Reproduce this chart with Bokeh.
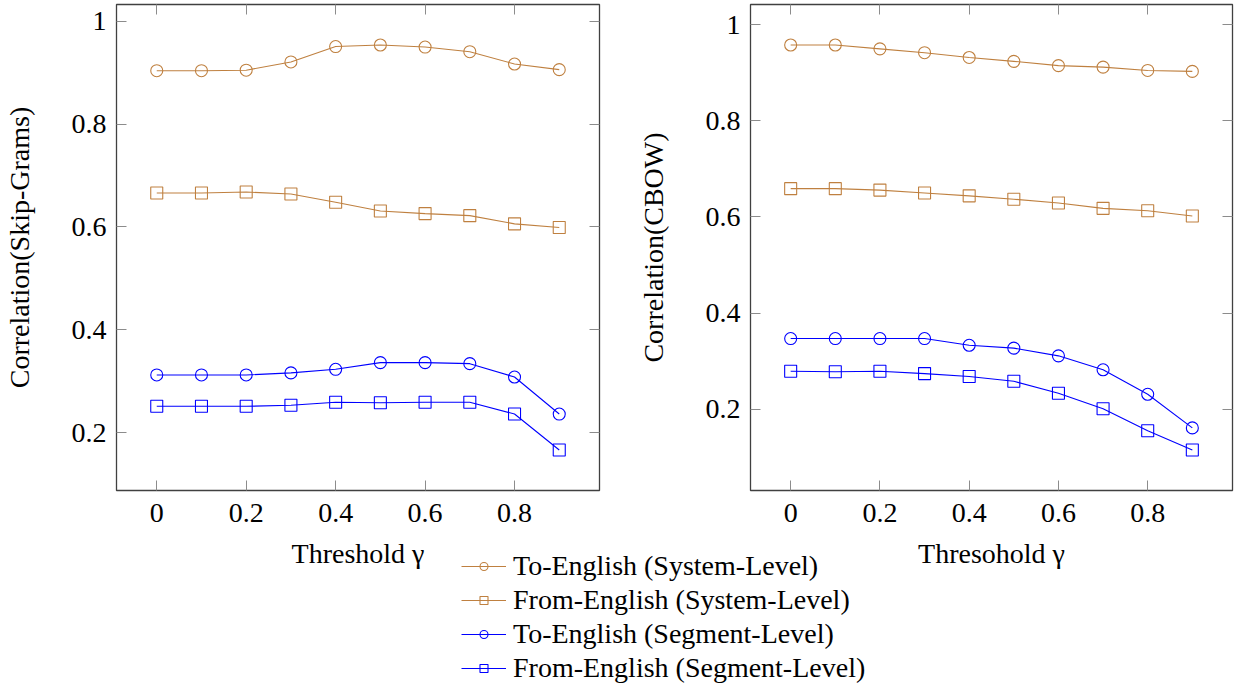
import math
from bokeh.plotting import figure
from bokeh.models import (FixedTicker, LinearAxis, Legend, LegendItem, Range1d,
                          CustomLabelingPolicy)
from bokeh.layouts import column, row
from bokeh.embed import file_html
from bokeh.resources import INLINE

# ---- data ----
thresholds = [0.0, 0.1, 0.2, 0.3, 0.4, 0.5, 0.6, 0.7, 0.8, 0.9]

sg_to_sys = [0.904, 0.904, 0.905, 0.921, 0.951, 0.954, 0.950, 0.941, 0.917, 0.906]
sg_from_sys = [0.666, 0.666, 0.668, 0.664, 0.648, 0.631, 0.626, 0.622, 0.606, 0.599]
sg_to_seg = [0.312, 0.312, 0.312, 0.316, 0.323, 0.336, 0.336, 0.334, 0.308, 0.236]
sg_from_seg = [0.251, 0.251, 0.251, 0.253, 0.259, 0.258, 0.259, 0.259, 0.236, 0.166]

cb_to_sys = [0.958, 0.958, 0.950, 0.942, 0.932, 0.924, 0.915, 0.912, 0.905, 0.903]
cb_from_sys = [0.659, 0.659, 0.656, 0.650, 0.644, 0.637, 0.629, 0.618, 0.613, 0.602]
cb_to_seg = [0.347, 0.347, 0.347, 0.347, 0.333, 0.327, 0.311, 0.282, 0.231, 0.161]
cb_from_seg = [0.279, 0.278, 0.279, 0.274, 0.268, 0.258, 0.233, 0.201, 0.155, 0.115]

series_names = ["To-English (System-Level)", "From-English (System-Level)",
                "To-English (Segment-Level)", "From-English (Segment-Level)"]
x_ticks = [0.0, 0.2, 0.4, 0.6, 0.8]
y_ticks = [0.2, 0.4, 0.6, 0.8, 1.0]
tick_overrides = {0: "0", 1: "1"}

BROWN = "#BF8040"
BLUE = "#0000FF"
colors = [BROWN, BROWN, BLUE, BLUE]
markers = ["circle", "square", "circle", "square"]

FONT = "Liberation Serif"
FS = "28px"


def enlarged(lo, hi, frac=0.1):
    span = hi - lo
    return lo - frac * span, hi + frac * span


def make_plot(series, ylabel, xlabel, width, left_border, right_border):
    ymin = min(min(s) for s in series)
    ymax = max(max(s) for s in series)
    y0, y1 = enlarged(ymin, ymax)
    x0, x1 = enlarged(min(thresholds), max(thresholds))
    p = figure(width=width, height=585, output_backend="svg", toolbar_location=None,
               x_range=Range1d(x0, x1), y_range=Range1d(y0, y1),
               min_border_left=left_border, min_border_right=right_border,
               min_border_top=2, min_border_bottom=95)
    p.background_fill_color = "white"
    p.border_fill_color = None
    p.outline_line_color = "#404040"
    p.outline_line_width = 1.3
    p.grid.visible = False

    for s, c, m in zip(series, colors, markers):
        p.line(thresholds, s, line_color=c, line_width=1.1)
        p.scatter(thresholds, s, marker=m, size=12, line_color=c, line_width=1.1,
                  fill_color=None)

    def style(ax, labels=True):
        ax.axis_line_color = None
        ax.major_tick_in = 10
        ax.major_tick_out = 0
        ax.minor_tick_line_color = None
        ax.major_tick_line_color = "#8c8c8c"
        ax.major_tick_line_width = 1
        ax.major_label_text_font = FONT
        ax.major_label_text_color = "black"
        if labels:
            ax.major_label_text_font_size = FS
            ax.major_label_overrides = tick_overrides
        else:
            ax.major_label_text_font_size = "1px"
            ax.major_label_standoff = 0
            ax.major_label_policy = CustomLabelingPolicy(code="return []")

    xa = p.xaxis[0]
    xa.ticker = FixedTicker(ticks=x_ticks)
    style(xa)
    xa.major_label_standoff = 13
    xa.axis_label = xlabel
    xa.axis_label_text_font = FONT
    xa.axis_label_text_font_size = FS
    xa.axis_label_text_font_style = "normal"
    xa.axis_label_text_color = "black"
    xa.axis_label_standoff = 13

    ya = p.yaxis[0]
    ya.ticker = FixedTicker(ticks=y_ticks)
    style(ya)
    ya.major_label_standoff = 10
    ya.axis_label = ylabel
    ya.axis_label_text_font = FONT
    ya.axis_label_text_font_size = FS
    ya.axis_label_text_font_style = "normal"
    ya.axis_label_text_color = "black"
    ya.axis_label_standoff = 34

    top = LinearAxis(ticker=FixedTicker(ticks=x_ticks))
    style(top, labels=False)
    p.add_layout(top, "above")
    right = LinearAxis(ticker=FixedTicker(ticks=y_ticks))
    style(right, labels=False)
    p.add_layout(right, "right")
    return p


p1 = make_plot([sg_to_sys, sg_from_sys, sg_to_seg, sg_from_seg],
               "Correlation(Skip-Grams)", "Threshold γ", 621, 114, 22)
p2 = make_plot([cb_to_sys, cb_from_sys, cb_to_seg, cb_from_seg],
               "Correlation(CBOW)", "Thresohold γ", 615, 129, 1)

# ---- shared legend in its own (transparent) figure ----
p3 = figure(width=1227, height=136, output_backend="svg", toolbar_location=None,
            x_axis_type=None, y_axis_type=None, min_border=0,
            margin=(-36, 0, -17, 0))
p3.background_fill_color = None
p3.border_fill_color = None
p3.outline_line_color = None
p3.grid.visible = False
items = []
nan = [math.nan]
for name, c, m in zip(series_names, colors, markers):
    lr = p3.line(nan, nan, line_color=c, line_width=1.1)
    sr = p3.scatter(nan, nan, marker=m, line_color=c, line_width=1.1, fill_color=None)
    items.append(LegendItem(label=name, renderers=[lr, sr]))
legend = Legend(items=items, location=(461, 0), padding=0, margin=0, spacing=0,
                label_standoff=7, glyph_width=45, glyph_height=20, label_height=34,
                label_text_font=FONT, label_text_font_size=FS, label_text_color="black",
                border_line_color=None, background_fill_alpha=0)
p3.add_layout(legend, "center")

layout = column(row(p1, p2), p3)

open("out.html", "w").write(file_html(layout, INLINE))
